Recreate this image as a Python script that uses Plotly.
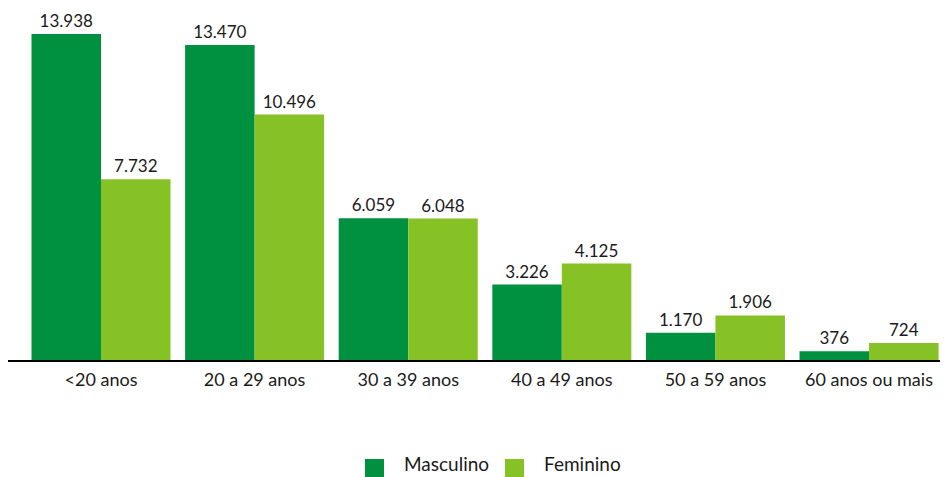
import plotly.graph_objects as go

categories = ["<20 anos", "20 a 29 anos", "30 a 39 anos", "40 a 49 anos", "50 a 59 anos", "60 anos ou mais"]
masculino = [13938, 13470, 6059, 3226, 1170, 376]
feminino = [7732, 10496, 6048, 4125, 1906, 724]
series_names = ["Masculino", "Feminino"]
colors = ["#009140", "#86C226"]

FONT = "Lato"
TXT = "#1a1a1a"
fig = go.Figure()
for name, vals, col in zip(series_names, [masculino, feminino], colors):
    fig.add_trace(go.Bar(
        x=list(range(len(categories))), y=vals, name=name,
        marker=dict(color=col, line=dict(width=0)),
        texttemplate="%{y:,}", textposition="outside",
        textfont=dict(family=FONT, size=17, color=TXT),
        cliponaxis=False, showlegend=False,
    ))

# manual legend (paper coordinates)
legend_items = [
    (0.38305, 0.40343, 0.42275),
    (0.53326, 0.55365, 0.57296),
]
for (x0, x1, xt), name, col in zip(legend_items, series_names, colors):
    fig.add_shape(type="rect", xref="paper", yref="paper",
                  x0=x0, x1=x1, y0=-0.33523, y1=-0.28125,
                  fillcolor=col, line=dict(width=0))
    fig.add_annotation(xref="paper", yref="paper", x=xt, y=-0.2940,
                       xanchor="left", yanchor="middle", text=name, showarrow=False,
                       font=dict(family=FONT, size=19, color=TXT))

fig.update_layout(
    width=932, height=469,
    margin=dict(l=0, r=0, t=0, b=117),
    plot_bgcolor="white", paper_bgcolor="white",
    barmode="group", bargap=0.095, bargroupgap=0,
    separators=",.",
    showlegend=False,
    font=dict(family=FONT, size=18, color=TXT),
    xaxis=dict(
        range=[-0.6055, 5.462],
        tickmode="array", tickvals=list(range(len(categories))), ticktext=categories,
        showline=True, linecolor="#000000", linewidth=1.5,
        showgrid=False, zeroline=False, ticks="", ticklabelstandoff=3,
        tickfont=dict(family=FONT, size=18, color=TXT),
    ),
    yaxis=dict(range=[0, 15050], visible=False, showgrid=False, zeroline=False),
)

fig.write_html("out.html")
